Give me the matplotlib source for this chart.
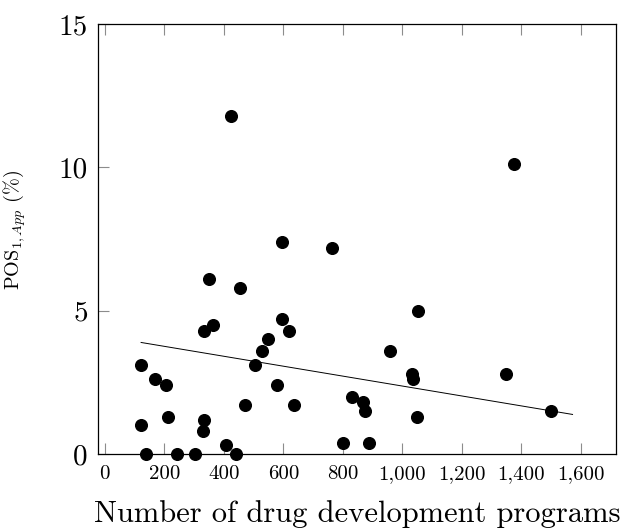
import matplotlib
matplotlib.use("Agg")
import matplotlib.pyplot as plt
from matplotlib import rcParams
from matplotlib.ticker import FuncFormatter, MultipleLocator

rcParams["font.family"] = "cmr10"
rcParams["mathtext.fontset"] = "cm"
rcParams["axes.formatter.use_mathtext"] = True

# Number of programs vs. probability of success (phase 1 -> approval)
programs = [122, 168, 207, 214, 122, 140, 244, 303, 409, 441,
            329, 333, 333, 364, 472, 504, 527, 547, 596, 618,
            578, 635, 799, 832, 868, 873, 888, 960, 1031, 1036,
            1050, 1348, 1500, 596, 762, 349, 456, 1053, 423, 1374]
pos_app = [3.1, 2.6, 2.4, 1.3, 1.0, 0.0, 0.0, 0.0, 0.3, 0.0,
           0.8, 1.2, 4.3, 4.5, 1.7, 3.1, 3.6, 4.0, 4.7, 4.3,
           2.4, 1.7, 0.4, 2.0, 1.8, 1.5, 0.4, 3.6, 2.8, 2.6,
           1.3, 2.8, 1.5, 7.4, 7.2, 6.1, 5.8, 5.0, 11.8, 10.1]

# Linear trend endpoints
trend_x = [122, 1572]
trend_y = [3.89, 1.38]

TICK_GRAY = "#8c8c8c"

fig = plt.figure(figsize=(6.26, 5.31), dpi=100)
ax = fig.add_axes([0.156, 0.145, 0.828, 0.810])

ax.plot(programs, pos_app, linestyle="None", marker="o", markersize=8.4,
        color="black", zorder=3, clip_on=False)
ax.plot(trend_x, trend_y, color="black", linewidth=0.7, zorder=2)

ax.set_xlim(-24, 1718)
ax.set_ylim(0, 15)
ax.xaxis.set_major_locator(MultipleLocator(200))
ax.yaxis.set_major_locator(MultipleLocator(5))
ax.xaxis.set_major_formatter(FuncFormatter(lambda v, p: f"{int(v):,}"))
ax.yaxis.set_major_formatter(FuncFormatter(lambda v, p: f"{int(v)}"))

for s in ax.spines.values():
    s.set_linewidth(0.9)
    s.set_color("black")

ax.tick_params(axis="x", which="major", direction="in", length=8, width=0.8,
               color=TICK_GRAY, top=True, bottom=True, labelsize=15, pad=8)
ax.tick_params(axis="y", which="major", direction="in", length=8, width=0.8,
               color=TICK_GRAY, left=True, right=False, labelsize=21, pad=7)

ax.set_xlabel("Number of drug development programs", fontsize=22, labelpad=12)
ax.set_ylabel(r"$\mathrm{POS}_{1,App}$ (%)", fontsize=14.5)
ax.yaxis.set_label_coords(-0.134, 0.52)

fig.savefig("out.png", dpi=100)
